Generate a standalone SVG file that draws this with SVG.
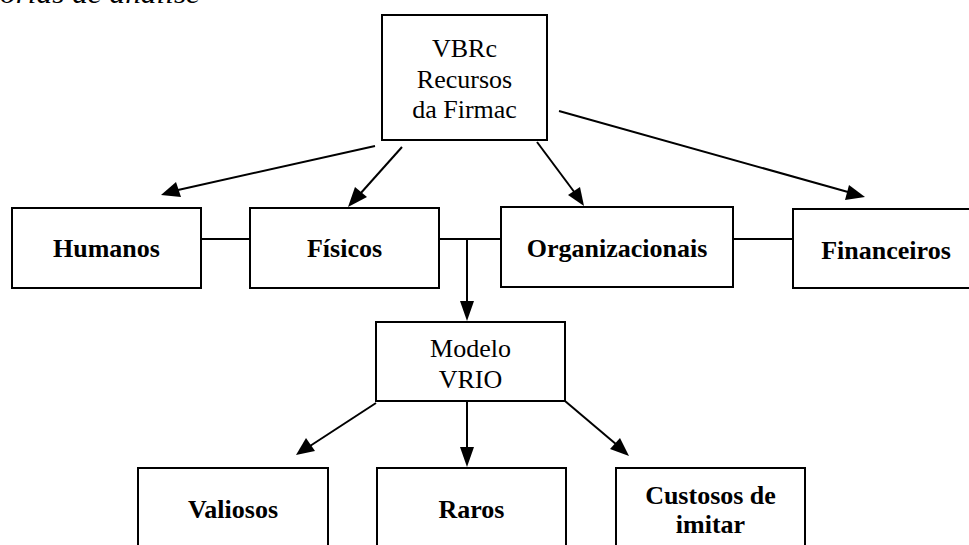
<svg xmlns="http://www.w3.org/2000/svg" width="969" height="545" viewBox="0 0 969 545">
<defs>
<style>
.box{fill:#fff;stroke:#000;stroke-width:2}
.t{font-family:"Liberation Serif","Times New Roman",serif;font-size:26px;text-anchor:middle;fill:#000}
.b{font-weight:bold}
.ln{stroke:#000;stroke-width:2;fill:none}
</style>
</defs>
<rect width="969" height="545" fill="#fff"/>
<text x="0" y="3" font-family="Liberation Serif, serif" font-style="italic" font-size="28" fill="#000" textLength="200" lengthAdjust="spacingAndGlyphs">orias de análise</text>

<g id="connectors">
<path class="ln" d="M201,239 H250"/>
<path class="ln" d="M439,239 H501"/>
<path class="ln" d="M733,239 H793"/>
<line class="ln" x1="467" y1="239" x2="467" y2="303"/>
<polygon points="467,321 460,301 474,301" fill="#000"/>
<line class="ln" x1="375" y1="146" x2="178" y2="190"/>
<polygon points="161,195 176,182 181,197" fill="#000"/>
<line class="ln" x1="402" y1="147" x2="360" y2="194"/>
<polygon points="348,207 355,187 367,197" fill="#000"/>
<line class="ln" x1="537" y1="142" x2="575" y2="193"/>
<polygon points="584,206 568,195 580,187" fill="#000"/>
<line class="ln" x1="559" y1="111" x2="848" y2="192"/>
<polygon points="865,197 845,200 849,185" fill="#000"/>
<line class="ln" x1="376" y1="403" x2="310" y2="446"/>
<polygon points="296,455 306,438 315,451" fill="#000"/>
<line class="ln" x1="467" y1="401" x2="467" y2="450"/>
<polygon points="467,467 460,447 474,447" fill="#000"/>
<line class="ln" x1="565" y1="401" x2="617" y2="445"/>
<polygon points="629,456 610,449 620,438" fill="#000"/>
</g>

<g id="vbrc">
<rect class="box" x="382" y="15" width="165" height="125"/>
<text class="t" x="464.5" y="57">VBRc</text>
<text class="t" x="464.5" y="88">Recursos</text>
<text class="t" x="464.5" y="118">da Firmac</text>
</g>
<g id="humanos">
<rect class="box" x="12" y="208" width="189" height="80"/>
<text class="t b" x="106.5" y="257">Humanos</text>
</g>
<g id="fisicos">
<rect class="box" x="250" y="208" width="189" height="80"/>
<text class="t b" x="344.5" y="257">Físicos</text>
</g>
<g id="organizacionais">
<rect class="box" x="501" y="207" width="232" height="80"/>
<text class="t b" x="617" y="257">Organizacionais</text>
</g>
<g id="financeiros">
<rect class="box" x="793" y="209" width="182" height="79"/>
<text class="t b" x="886" y="259">Financeiros</text>
</g>
<g id="modelo">
<rect class="box" x="376" y="322" width="189" height="79"/>
<text class="t" x="470.5" y="357">Modelo</text>
<text class="t" x="470.5" y="388">VRIO</text>
</g>
<g id="valiosos">
<rect class="box" x="138" y="468" width="190" height="90"/>
<text class="t b" x="233" y="518">Valiosos</text>
</g>
<g id="raros">
<rect class="box" x="377" y="468" width="189" height="90"/>
<text class="t b" x="471.5" y="518">Raros</text>
</g>
<g id="custosos">
<rect class="box" x="616" y="468" width="189" height="90"/>
<text class="t b" x="710.5" y="504">Custosos de</text>
<text class="t b" x="710.5" y="533">imitar</text>
</g>
</svg>
